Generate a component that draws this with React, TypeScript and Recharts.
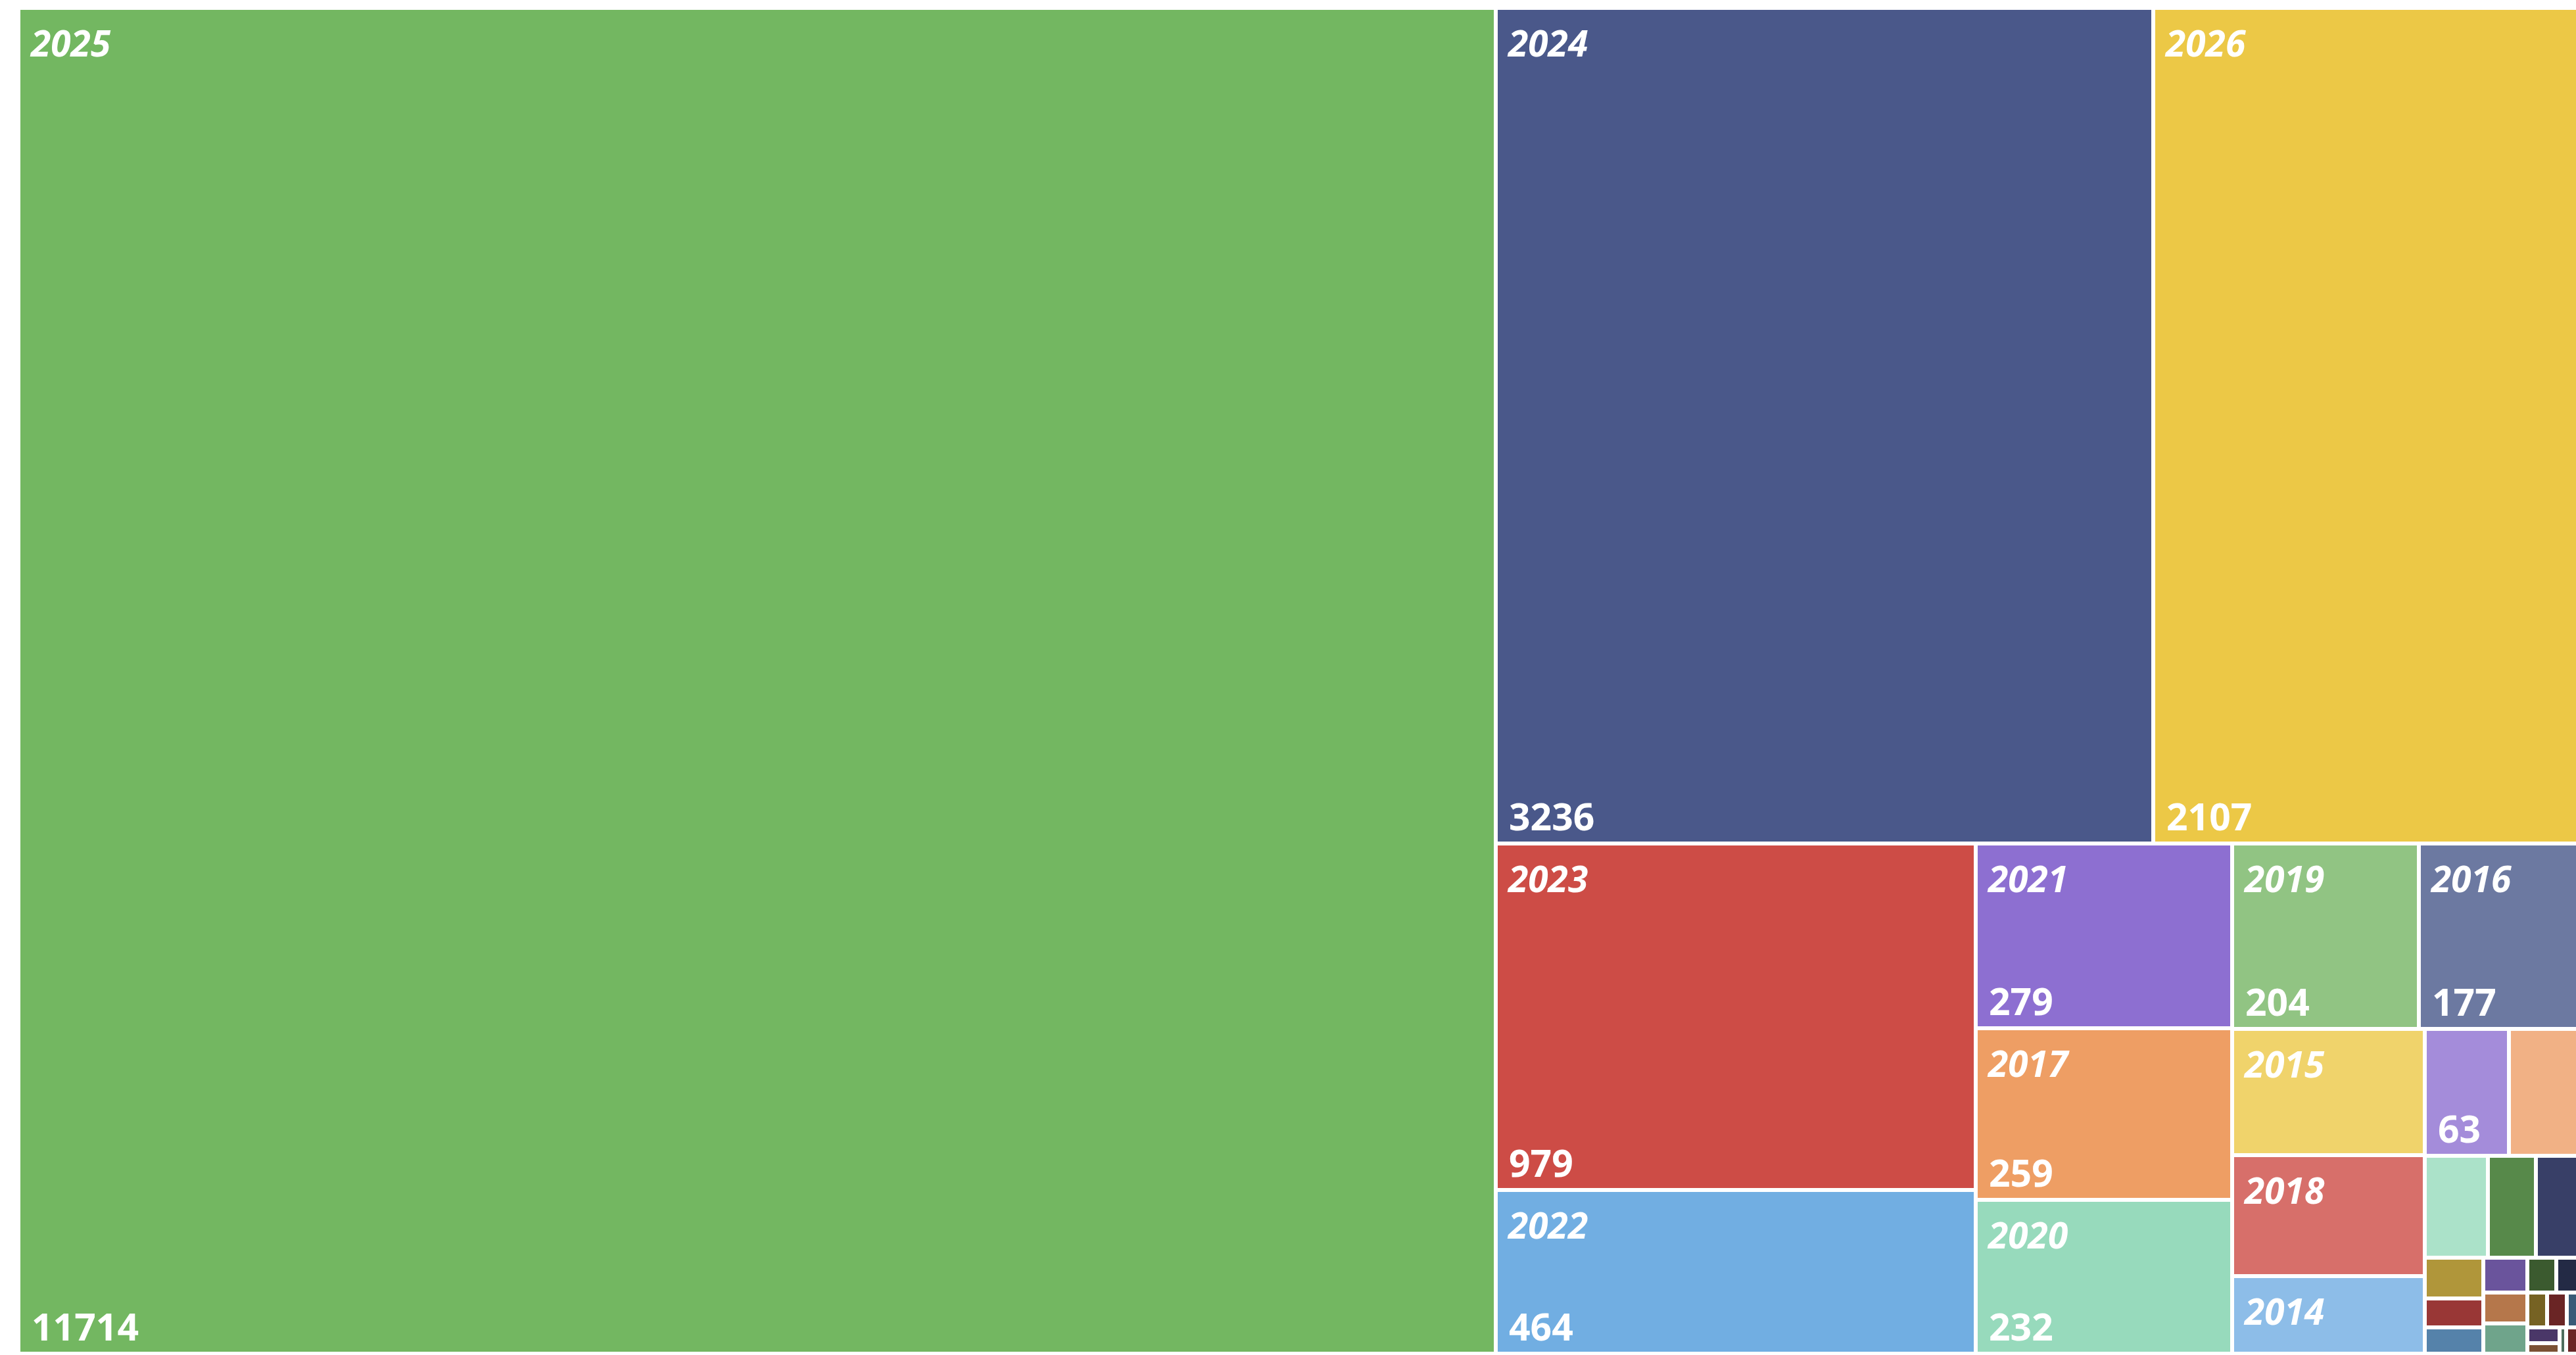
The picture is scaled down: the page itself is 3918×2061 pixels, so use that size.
import React from 'react';
import { Treemap } from 'recharts';

// Years (categories) and counts, sorted descending by count
const years: string[] = [
  '2025', '2024', '2026', '2023', '2022', '2021', '2017', '2020', '2019', '2016',
  '2015', '2018', '2014', '2013', '2012', '2011', '2010', '2009', '2008', '2007',
  '2006', '2005', '2004', '2003', '2002', '2001', '2000', '1999', '1998', '1997',
  '1996', '1995', '1994',
];
const counts: number[] = [
  11714, 3236, 2107, 979, 464, 279, 259, 232, 204, 177,
  143, 137, 88, 63, 54, 38, 29, 27, 14, 10,
  9, 9, 8, 8, 6, 5, 4, 4, 3, 3,
  2, 1, 1,
];
const colors: string[] = [
  '#73b761', '#4a588a', '#ecc846', '#cd4c46', '#71aee2', '#8d6fd1', '#ee9e64', '#97dabc',
  '#91c483', '#6c79a1', '#f0d36b', '#d76f6a', '#8dbde8', '#a48cda', '#f1b185', '#abe2c9',
  '#57894a', '#383f67', '#b0963a', '#993736', '#5582aa', '#6a549c', '#b5774b', '#6fa48b',
  '#3b5a2f', '#232a45', '#766223', '#6a2525', '#395a77', '#4a3768', '#7b5134', '#4e6e5e',
  '#6a2525',
];

const data = years.map((name, i) => ({ name, size: counts[i] }));

const GAP = 3;
const FONT = '"Noto Sans", "Open Sans", sans-serif';

function CellShape(props: any) {
  const { x, y, width, height, depth, index, name, value } = props;
  if (depth !== 1) return null;
  const vx = x + GAP;
  const vy = y + GAP;
  const vw = Math.max(width - 2 * GAP, 0);
  const vh = Math.max(height - 2 * GAP, 0);
  const showYear = vw >= 200 && vh >= 90;
  const showValue = showYear ? vh >= 200 : vw >= 115 && vh >= 150;
  return (
    <g>
      <rect x={vx} y={vy} width={vw} height={vh} fill={colors[index % colors.length]} stroke="none" />
      {showYear && (
        <text
          x={vx + 16}
          y={vy + 71}
          fill="#ffffff"
          fontFamily={FONT}
          fontSize={55}
          fontStyle="italic"
          fontWeight={700}
        >
          {name}
        </text>
      )}
      {showValue && (
        <text
          x={vx + 17}
          y={vy + vh - 17}
          fill="#ffffff"
          fontFamily={FONT}
          fontSize={57}
          fontWeight={700}
        >
          {value}
        </text>
      )}
    </g>
  );
}

export default function App() {
  return (
    <div
      style={{
        position: 'fixed',
        left: 0,
        top: 0,
        width: 3918,
        height: 2061,
        overflow: 'hidden',
        background: '#ffffff',
      }}
    >
      <div style={{ position: 'absolute', left: 28, top: 12 }}>
        <Treemap
          width={3898}
          height={2047}
          data={data}
          dataKey="size"
          nameKey="name"
          aspectRatio={(1 + Math.sqrt(5)) / 2}
          isAnimationActive={false}
          content={(p: any) => <CellShape {...p} />}
        />
      </div>
    </div>
  );
}
